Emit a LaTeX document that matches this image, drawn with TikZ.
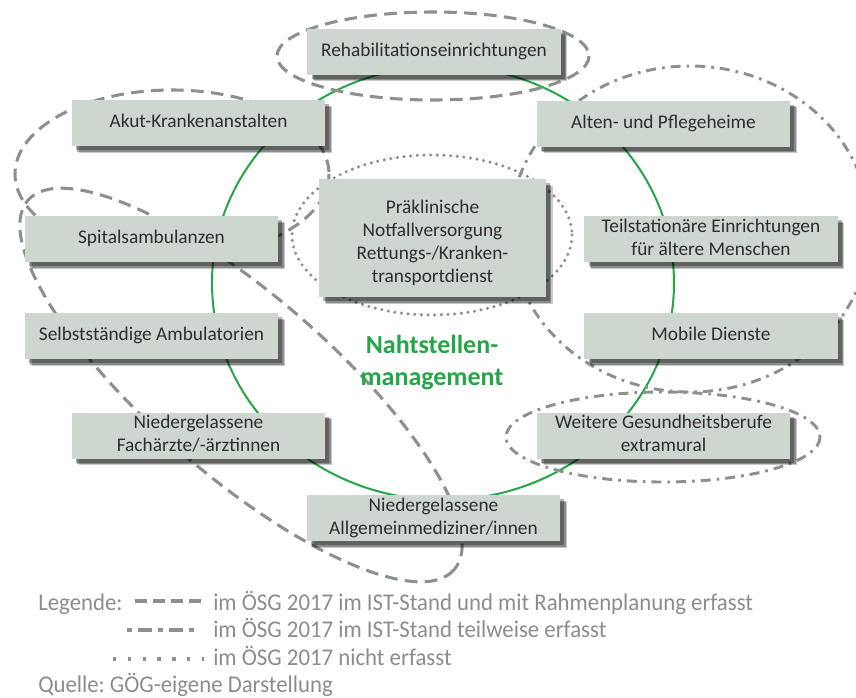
\documentclass[tikz,border=0pt]{standalone}
\usepackage{fontspec}
\setmainfont{Carlito}
\newfontfamily\legfont[FakeStretch=0.95]{Carlito}
\frenchspacing
\usetikzlibrary{shadows}
\definecolor{boxfill}{RGB}{205,215,208}
\definecolor{boxtext}{RGB}{45,45,45}
\definecolor{ringgreen}{RGB}{38,165,72}
\definecolor{loopgray}{RGB}{140,145,141}
\definecolor{legendgray}{RGB}{140,140,140}
\newcommand\lnA{\rule[-3pt]{0pt}{13pt}}
\begin{document}
\begin{tikzpicture}[x=0.75pt,y=-0.75pt,
  boxnode/.style={fill=boxfill, text=boxtext, inner sep=0pt, minimum width=190pt,
    minimum height=34.5pt, align=center, font=\fontsize{14.5}{17.5}\selectfont,
    drop shadow={shadow xshift=5pt, shadow yshift=-5pt, fill=black, opacity=0.22},
    drop shadow={shadow xshift=4.2pt, shadow yshift=-4.2pt, fill=black, opacity=0.30},
    drop shadow={shadow xshift=3.2pt, shadow yshift=-3.2pt, fill=black, opacity=0.30}},
  ring/.style={draw=ringgreen, line width=1.5pt},
  dashloop/.style={draw=loopgray, line width=2.3pt, dash pattern=on 9.5pt off 5.5pt},
  dashdotloop/.style={draw=loopgray, line width=2.2pt, dash pattern=on 7.5pt off 4.5pt on 2pt off 4.5pt},
  dotloop/.style={draw=loopgray, line width=2.6pt, line cap=round, dash pattern=on 0pt off 5pt},
  greenlabel/.style={anchor=base, inner sep=0pt, text=ringgreen, font=\bfseries\fontsize{19.5}{24}\selectfont},
  legendtext/.style={text=legendgray, font=\legfont\fontsize{18}{21}\selectfont, anchor=base west, inner sep=0pt},
  legdash/.style={draw=loopgray, line width=2.6pt, dash pattern=on 9pt off 4.5pt},
  legdashdot/.style={draw=loopgray, line width=2.4pt, dash pattern=on 3.75pt off 4.5pt on 10.5pt off 4.5pt},
  legdot/.style={draw=loopgray, line width=2.6pt, dash pattern=on 2.6pt off 8.5pt},
]
\useasboundingbox (0,0) rectangle (856,697);
\clip (0,0) rectangle (856,697);

% green ring
\coordinate (ringc) at (443,283);
\draw[ring] (ringc) ellipse [x radius=231, y radius=217];

% grouping loops
\draw[dashloop] (433,56) ellipse [x radius=156, y radius=44];
\draw[dashloop] (172,174) ellipse [x radius=157, y radius=84];
\draw[dashloop, rotate around={-40.9:(241,385)}] (241,385) ellipse [x radius=282, y radius=90];
\draw[dashdotloop] (690,229) ellipse [x radius=180, y radius=163];
\draw[dashdotloop] (663,437) ellipse [x radius=157, y radius=45];
\draw[dotloop] (432,235) ellipse [x radius=140, y radius=80];

% boxes
\node[boxnode] (rehab) at (434,51.5) {\lnA Rehabilitationseinrichtungen};
\node[boxnode] (akut) at (198.5,123) {\lnA Akut-Krankenanstalten};
\node[boxnode] (alten) at (663.5,123.5) {\lnA Alten- und Pflegeheime};
\node[boxnode] (spital) at (151.5,239) {\lnA Spitalsambulanzen};
\node[boxnode, minimum width=170pt, minimum height=88.5pt, font=\fontsize{14.5}{17.3}\selectfont] (prak) at (432.5,238)
  {\rule{0pt}{17.7pt}Präklinische\\Notfallversorgung\\Rettungs-/Kranken-\\transportdienst\lnA};
\node[boxnode] (teil) at (711,239) {\lnA Teilstationäre Einrichtungen\\\lnA für ältere Menschen};
\node[boxnode] (selbst) at (151.5,336) {\lnA Selbstständige Ambulatorien};
\node[boxnode] (mobile) at (711,336) {\lnA Mobile Dienste};
\node[boxnode] (fach) at (198.5,435.5) {\lnA Niedergelassene\\\lnA Fachärzte/-ärztinnen};
\node[boxnode] (weitere) at (663.5,435.5) {\lnA Weitere Gesundheitsberufe\\\lnA extramural};
\node[boxnode] (allg) at (433.5,518) {\lnA Niedergelassene\\\lnA Allgemeinmediziner/innen};

% centre label
\node[greenlabel] (naht1) at (432,353) {Nahtstellen-};
\node[greenlabel] (naht2) at (432,385) {management};

% legend
\node[legendtext] (legA) at (38,610) {Legende:};
\draw[legdash] (135,601) -- (203,601);
\node[legendtext] (legB) at (213,610) {im ÖSG 2017 im IST-Stand und mit Rahmenplanung erfasst};
\draw[legdashdot] (127,630) -- (194,630);
\node[legendtext] (legC) at (213,637.5) {im ÖSG 2017 im IST-Stand teilweise erfasst};
\draw[legdot] (113,659) -- (204,659);
\node[legendtext] (legD) at (213,665) {im ÖSG 2017 nicht erfasst};
\node[legendtext] (legE) at (38,692) {Quelle: GÖG-eigene Darstellung};
\end{tikzpicture}
\end{document}
